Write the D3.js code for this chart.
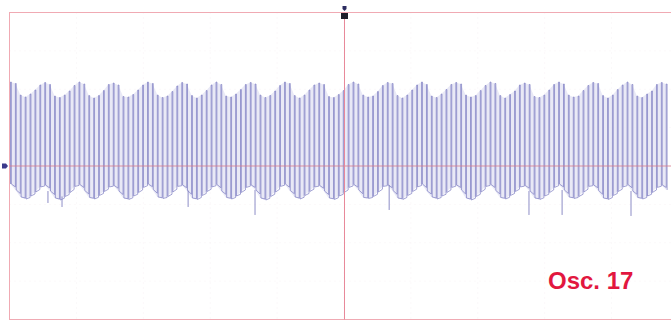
<!DOCTYPE html>
<html>
<head>
<meta charset="utf-8">
<script src="https://cdn.jsdelivr.net/npm/d3@7"></script>
<style>
  html, body { margin: 0; padding: 0; background: #ffffff; }
  svg { display: block; }
</style>
</head>
<body>
<svg id="scope" width="671" height="322"></svg>
<script>
// Scope screen: 10 horizontal divisions (2 ms/div), 8 vertical divisions (5 V/div)
const timeDomain = [-10, 10];      // ms
const voltDomain = [-20, 20];      // V
const timeDivs = 10;
const voltDivs = 8;

// Pulse train timing
const pulseStart = -9.97;          // ms, first pulse
const pulsePeriod = 0.1463;        // ms between pulses
const pulseWidth = 0.025;          // ms at the high level

// Peak voltage of each pulse (V)
const pulseHigh = [
  10.94, 10.75, 9.24, 8.98, 9.37, 9.90, 10.55,
  10.88, 10.62, 9.11, 8.92, 9.24, 9.77, 10.49,
  10.94, 10.68, 9.18, 8.85, 9.18, 9.83, 10.62,
  10.81, 10.55, 9.05, 8.98, 9.31, 9.90, 10.55,
  10.94, 10.75, 9.24, 8.92, 9.11, 9.70, 10.42,
  10.88, 10.68, 9.18, 8.85, 9.24, 9.83, 10.55,
  10.94, 10.62, 9.11, 8.98, 9.37, 9.96, 10.62,
  10.88, 10.68, 9.24, 8.92, 9.18, 9.77, 10.49,
  10.94, 10.75, 9.18, 8.85, 9.24, 9.90, 10.55,
  10.81, 10.62, 9.05, 8.92, 9.31, 9.83, 10.62,
  10.94, 10.68, 9.24, 8.98, 9.11, 9.70, 10.49,
  10.88, 10.75, 9.18, 8.85, 9.24, 9.90, 10.55,
  10.94, 10.62, 9.11, 8.92, 9.37, 9.96, 10.62,
  10.88, 10.68, 9.24, 8.98, 9.18, 9.83, 10.49,
  10.94, 10.75, 9.18, 8.85, 9.31, 9.77, 10.55,
  10.81, 10.62, 9.05, 8.92, 9.24, 9.90, 10.62,
  10.94, 10.68, 9.24, 8.98, 9.11, 9.83, 10.49,
  10.88, 10.75, 9.18, 8.85, 9.24, 9.96, 10.55,
  10.94, 10.62, 9.11, 8.92, 9.37, 9.77, 10.62,
  10.88, 10.68
];

// Level the trace settles to after each pulse (V)
const pulseLow = [
  -2.34, -3.12, -4.04, -4.30, -3.91, -3.39, -2.73,
  -2.47, -3.26, -4.17, -4.43, -3.97, -3.45, -2.66,
  -2.40, -3.19, -4.10, -4.30, -3.84, -3.32, -2.73,
  -2.53, -3.26, -4.17, -4.36, -3.91, -3.45, -2.79,
  -2.34, -3.06, -4.04, -4.23, -3.97, -3.39, -2.66,
  -2.47, -3.19, -4.17, -4.36, -3.84, -3.32, -2.73,
  -2.40, -3.26, -4.10, -4.30, -3.91, -3.45, -2.79,
  -2.47, -3.12, -4.17, -4.43, -3.97, -3.39, -2.66,
  -2.34, -3.19, -4.04, -4.30, -3.84, -3.32, -2.73,
  -2.53, -3.26, -4.17, -4.36, -3.91, -3.45, -2.79,
  -2.40, -3.12, -4.10, -4.23, -3.97, -3.39, -2.66,
  -2.47, -3.19, -4.17, -4.36, -3.84, -3.32, -2.73,
  -2.34, -3.26, -4.04, -4.30, -3.91, -3.45, -2.79,
  -2.47, -3.12, -4.17, -4.43, -3.97, -3.39, -2.66,
  -2.40, -3.19, -4.10, -4.30, -3.84, -3.32, -2.73,
  -2.53, -3.26, -4.17, -4.36, -3.91, -3.45, -2.79,
  -2.34, -3.12, -4.04, -4.23, -3.97, -3.39, -2.66,
  -2.47, -3.19, -4.17, -4.36, -3.84, -3.32, -2.73,
  -2.40, -3.26, -4.10, -4.30, -3.91, -3.45, -2.79,
  -2.47, -3.12
];

// Occasional negative glitches on the falling edges
const glitchTimes = [-8.85, -8.43, -4.66, -2.66, 1.35, 5.53, 6.52, 8.58];   // ms
const glitchVolts = [-4.82, -5.34, -5.34, -6.38, -5.73, -6.38, -6.38, -6.51]; // V

const caption = "Osc. 17";

const svg = d3.select("#scope");
const W = 671, H = 322;

const x = d3.scaleLinear().domain(timeDomain).range([9.5, 678.5]);
const y = d3.scaleLinear().domain(voltDomain).range([319.5, 12.5]);

svg.append("defs").append("clipPath").attr("id", "screen")
  .append("rect").attr("x", 9.5).attr("y", 12.5)
  .attr("width", W - 9.5).attr("height", 307);

// Very faint graticule
const grid = svg.append("g").attr("stroke", "#f7f1f4").attr("stroke-width", 1)
  .attr("stroke-dasharray", "1,4");
grid.selectAll("line.v").data(d3.range(1, timeDivs)).join("line")
  .attr("x1", i => x(timeDomain[0] + i * (timeDomain[1] - timeDomain[0]) / timeDivs))
  .attr("x2", i => x(timeDomain[0] + i * (timeDomain[1] - timeDomain[0]) / timeDivs))
  .attr("y1", y(voltDomain[1])).attr("y2", y(voltDomain[0]));
grid.selectAll("line.h").data(d3.range(1, voltDivs)).join("line")
  .attr("y1", i => y(voltDomain[0] + i * (voltDomain[1] - voltDomain[0]) / voltDivs))
  .attr("y2", i => y(voltDomain[0] + i * (voltDomain[1] - voltDomain[0]) / voltDivs))
  .attr("x1", x(timeDomain[0])).attr("x2", W);

// Pulse records
const pulses = pulseHigh.map((hi, k) => ({
  t: pulseStart + k * pulsePeriod, hi, lo: pulseLow[k]
}));

const trace = svg.append("g").attr("clip-path", "url(#screen)");

// Envelope haze between pulses
const area = d3.area()
  .x(d => x(d.t))
  .y0(d => y(d.lo))
  .y1(d => y(d.hi));
trace.append("path").datum(pulses)
  .attr("d", area)
  .attr("fill", "#e3e3f4")
  .attr("fill-opacity", 0.8);

// Signal path: low level, rise, short top, fall
const pts = [];
pulses.forEach((p, k) => {
  const prevLo = k === 0 ? p.lo : pulses[k - 1].lo;
  pts.push([p.t, k === 0 ? p.lo : (prevLo + p.lo) / 2]);
  pts.push([p.t, p.hi]);
  pts.push([p.t + pulseWidth, p.hi]);
  pts.push([p.t + pulseWidth, p.lo]);
});
const line = d3.line().x(d => x(d[0])).y(d => y(d[1]));
trace.append("path").datum(pts)
  .attr("d", line)
  .attr("fill", "none")
  .attr("stroke", "#7b7bc2")
  .attr("stroke-width", 0.7)
  .attr("stroke-linejoin", "miter");

// Glitches
glitchTimes.forEach((t, i) => {
  const k = Math.max(0, Math.min(pulses.length - 1, Math.round((t - pulseStart) / pulsePeriod)));
  trace.append("line")
    .attr("x1", x(t)).attr("x2", x(t))
    .attr("y1", y(pulses[k].lo)).attr("y2", y(glitchVolts[i]))
    .attr("stroke", "#8080c0").attr("stroke-width", 0.9);
});

// Screen border
svg.append("rect")
  .attr("x", 9.5).attr("y", 12.5)
  .attr("width", x(timeDomain[1]) - 9.5).attr("height", y(voltDomain[0]) - 12.5)
  .attr("fill", "none").attr("stroke", "#f0aab3").attr("stroke-width", 1);

// Centre cross-hair
svg.append("line")
  .attr("x1", x(timeDomain[0])).attr("x2", W)
  .attr("y1", y(0)).attr("y2", y(0))
  .attr("stroke", "#d77a8c").attr("stroke-width", 1).attr("stroke-opacity", 0.8);
svg.append("line")
  .attr("x1", Math.round(x(0)) + 0.5).attr("x2", Math.round(x(0)) + 0.5)
  .attr("y1", y(voltDomain[1])).attr("y2", y(voltDomain[0]))
  .attr("stroke", "#e8899a").attr("stroke-width", 1);

// Trigger marker at the top
const tx = Math.round(x(0)) + 0.5;
svg.append("rect").attr("x", tx - 3.5).attr("y", 13).attr("width", 7).attr("height", 6)
  .attr("fill", "#1e1e2a");
svg.append("path")
  .attr("d", `M${tx - 2},6 L${tx + 2},6 L${tx + 2},9 L${tx},11 L${tx - 2},9 Z`)
  .attr("fill", "#2c2c60");

// Channel ground marker on the left edge
svg.append("path")
  .attr("d", `M2,${y(0) - 2.5} L6,${y(0) - 2.5} L8,${y(0)} L6,${y(0) + 2.5} L2,${y(0) + 2.5} Z`)
  .attr("fill", "#3a3a8c");

// Caption
svg.append("text")
  .attr("x", 548).attr("y", 289)
  .attr("font-family", "'Liberation Sans', Arial, sans-serif")
  .attr("font-weight", "bold")
  .attr("font-size", 24)
  .attr("fill", "#e2173f")
  .text(caption);
</script>
</body>
</html>
